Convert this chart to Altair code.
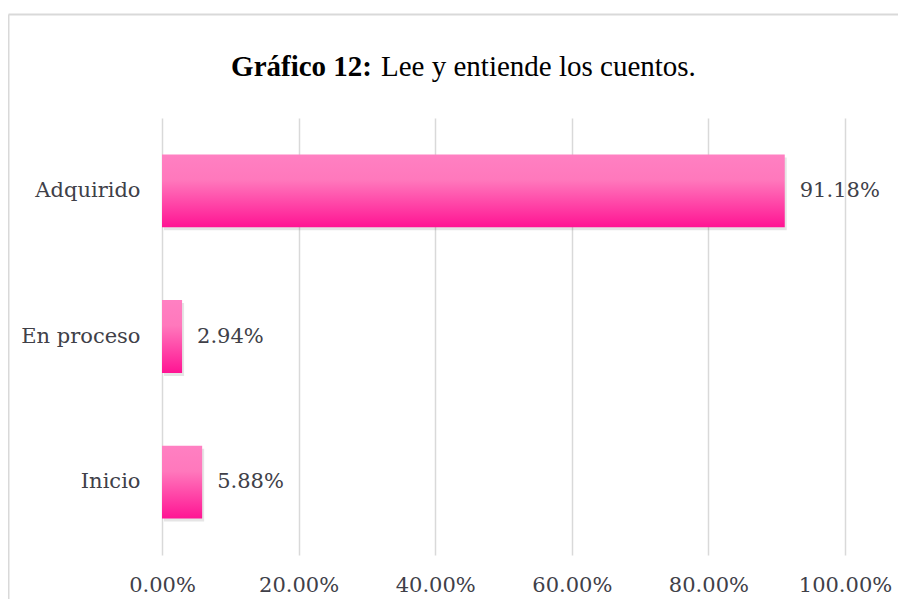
import altair as alt
import pandas as pd

categories = ["Adquirido", "En proceso", "Inicio"]
values = [0.9118, 0.0294, 0.0588]
ticks = [0, 0.2, 0.4, 0.6, 0.8, 1.0]
title_bold = "Gráfico 12:"
title_rest = "Lee y entiende los cuentos."

df = pd.DataFrame({"cat": categories, "val": values})

FONT = "DejaVu Serif"
LABEL_COLOR = "#404048"

y_enc = alt.Y("cat:N", sort=categories, title=None,
              scale=alt.Scale(paddingInner=0.5, paddingOuter=0.25),
              axis=alt.Axis(labelFont=FONT, labelFontSize=21, labelColor=LABEL_COLOR,
                            ticks=False, domain=False, labelPadding=22, grid=False))
x_enc = alt.X("val:Q", title=None,
              scale=alt.Scale(domain=[0, 1]),
              axis=alt.Axis(values=ticks, format=".2%", labelFont=FONT, labelFontSize=21,
                            labelColor=LABEL_COLOR, ticks=False, domain=False,
                            labelFlush=False, labelOverlap=False,
                            labelPadding=19, grid=True, gridColor="#D9D9D9",
                            gridWidth=1.5))

gradient = alt.LinearGradient(
    gradient="linear",
    stops=[alt.GradientStop(color="#FF80C2", offset=0),
           alt.GradientStop(color="#FF78BC", offset=0.35),
           alt.GradientStop(color="#FF1493", offset=1)],
    x1=0, x2=0, y1=0, y2=1)

base = alt.Chart(df)

shadow = base.mark_bar(color="#000000", opacity=0.10, yOffset=3, xOffset=2).encode(x=x_enc, y=y_enc)
bars = base.mark_bar(color=gradient).encode(x=x_enc, y=y_enc)
labels = base.mark_text(align="left", baseline="middle", dx=15, font=FONT, fontSize=21,
                        color=LABEL_COLOR).encode(
    x=x_enc, y=y_enc, text=alt.Text("val:Q", format=".2%"))

one = alt.Data(values=[{"bold": title_bold, "rest": title_rest}])
t_bold = alt.Chart(one).mark_text(align="right", baseline="alphabetic", font="Liberation Serif",
                                  fontSize=29, fontWeight="bold", color="#000000").encode(
    x=alt.value(210), y=alt.value(-42), text="bold:N")
t_rest = alt.Chart(one).mark_text(align="left", baseline="alphabetic", font="Liberation Serif",
                                  fontSize=29, color="#000000").encode(
    x=alt.value(219), y=alt.value(-42), text="rest:N")

border_left = alt.Chart(one).mark_rule(color="#D9D9D9", strokeWidth=2).encode(
    x=alt.value(-153.5), y=alt.value(-103.5), y2=alt.value(500))
border_top = alt.Chart(one).mark_rule(color="#D9D9D9", strokeWidth=2).encode(
    x=alt.value(-153.5), x2=alt.value(800), y=alt.value(-103.5))

chart = alt.layer(shadow, bars, labels, t_bold, t_rest, border_left, border_top).properties(
    width=683, height=437,
    autosize=alt.AutoSizeParams(type="none"),
    padding={"left": 154, "top": 110, "right": 53, "bottom": 44},
    background="white",
).configure_view(strokeWidth=0)

chart.save("out.html", embed_options={"renderer": "svg", "actions": False})
